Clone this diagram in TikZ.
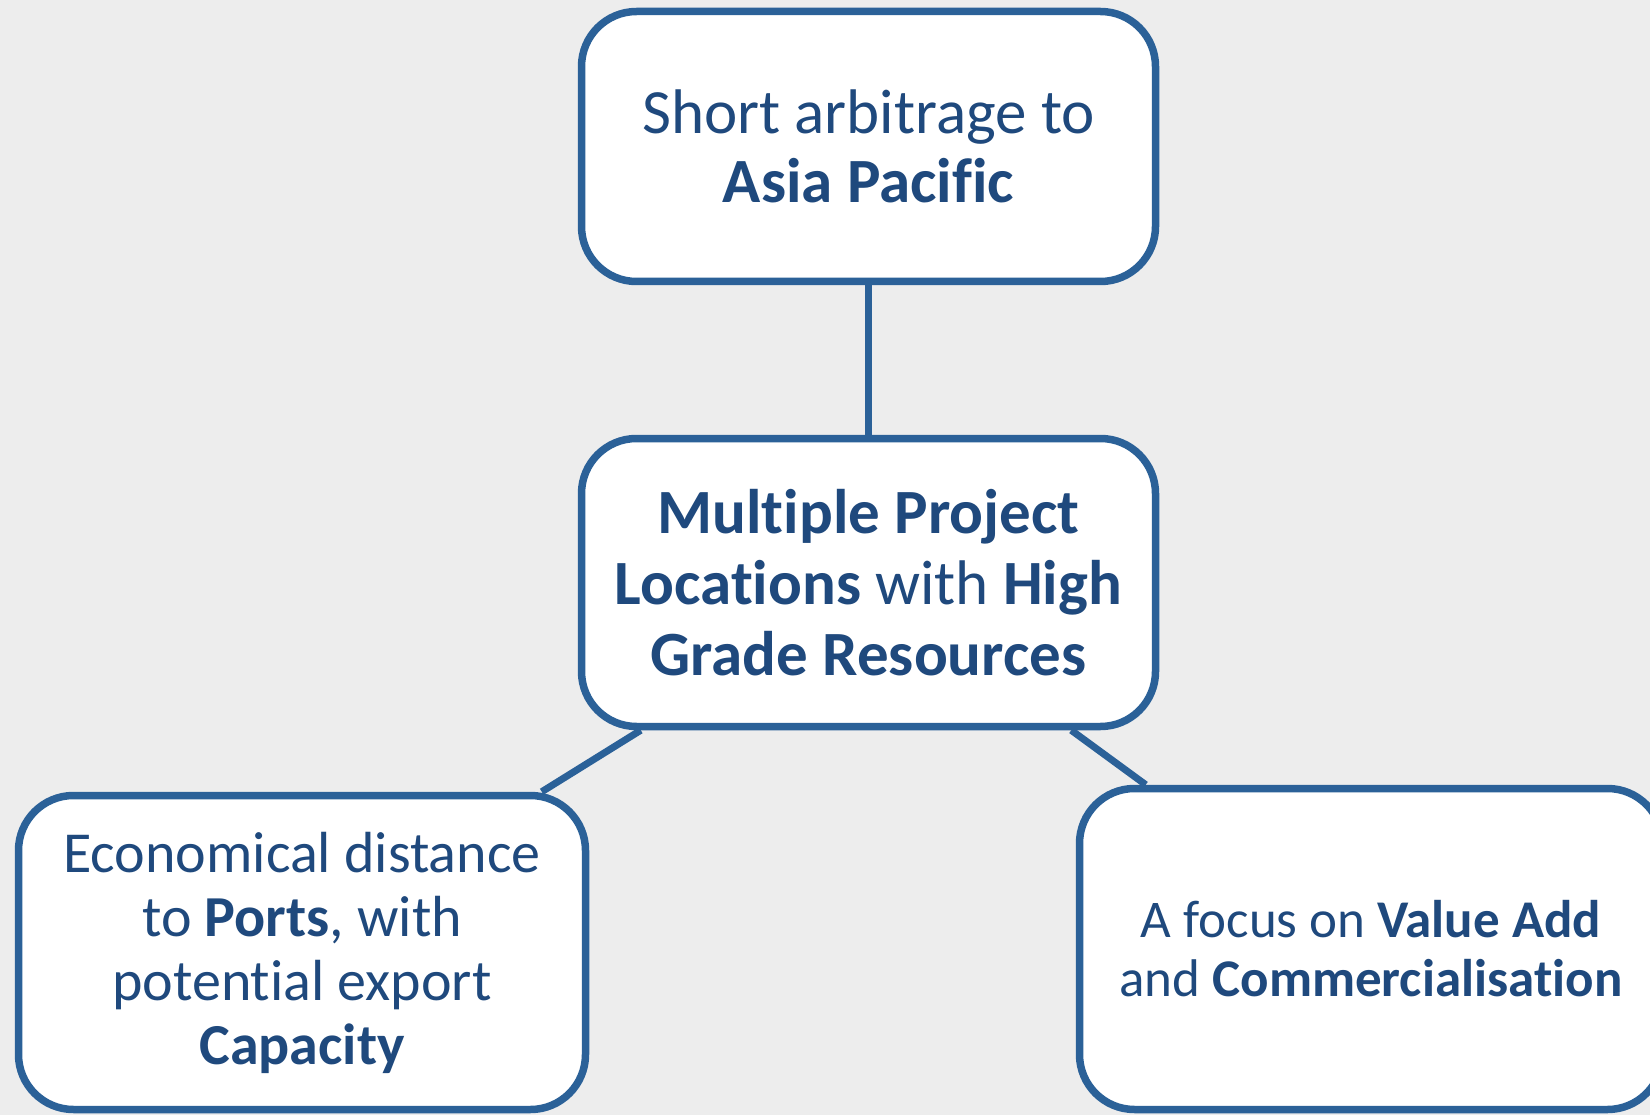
\documentclass[tikz,border=0pt]{standalone}
\usepackage{fontspec}
\setmainfont{Carlito}[Ligatures={NoCommon}]
\definecolor{boxline}{RGB}{43,97,152}
\definecolor{boxtext}{RGB}{31,73,125}
\definecolor{paper}{RGB}{237,237,237}
\begin{document}
\begin{tikzpicture}[x=1pt,y=-1pt]
\tikzset{
  card/.style={draw=boxline, line width=7.5pt, fill=white, rounded corners=55pt,
    inner sep=0pt, align=center, text=boxtext},
  link/.style={draw=boxline, line width=7pt}
}
\fill[paper] (0,0) rectangle (1650,1115);
\useasboundingbox (0,0) rectangle (1650,1115);

\node[card, minimum width=574pt, minimum height=270pt, font=\fontsize{63}{69}\selectfont]
  (top) at (868.5,146.5) {Short arbitrage to\\\textbf{Asia Pacific}};
\node[card, minimum width=574pt, minimum height=288pt, font=\fontsize{63}{71}\selectfont]
  (mid) at (868.5,582.5) {\textbf{Multiple Project}\\\textbf{Locations} with \textbf{High}\\\textbf{Grade Resources}};
\node[card, minimum width=567pt, minimum height=314pt, font=\fontsize{58}{64}\selectfont]
  (left) at (302,952.5) {Economical distance\\to \textbf{Ports}, with\\potential export\\\textbf{Capacity}};
\node[card, minimum width=583pt, minimum height=321pt, font=\fontsize{53}{59}\selectfont]
  (right) at (1371,949) {A focus on \textbf{Value Add}\\and \textbf{Commercialisation}};

\draw[link] (top.south) -- (mid.north);
\draw[link] ([xshift=63pt]mid.south west) -- ([xshift=527pt]left.north west);
\draw[link] ([xshift=-88pt]mid.south east) -- ([xshift=70pt]right.north west);
\end{tikzpicture}
\end{document}
